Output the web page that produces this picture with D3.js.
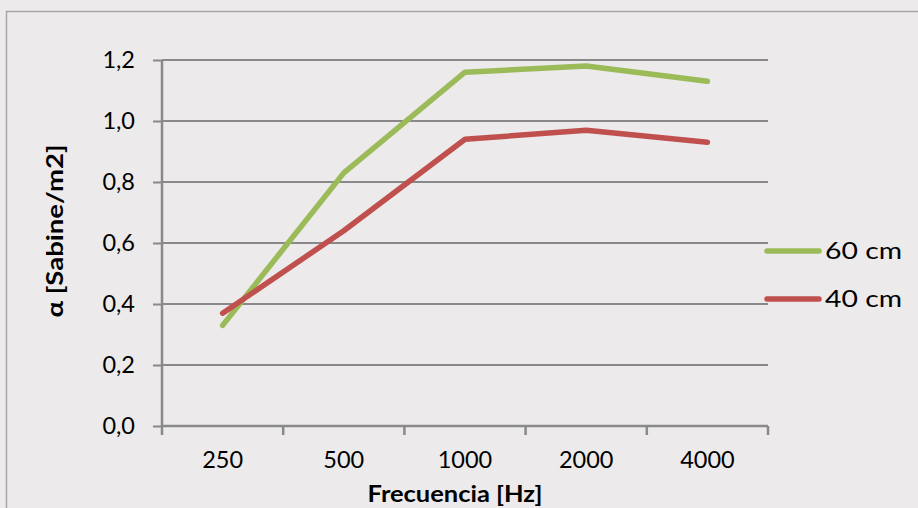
<!DOCTYPE html>
<html>
<head>
<meta charset="utf-8">
<script src="https://cdn.jsdelivr.net/npm/d3@7"></script>
<style>
html,body{margin:0;padding:0;background:#ECEAEB;}
svg{display:block;}
text{font-family:"Lato","Open Sans",sans-serif;fill:#000;}
</style>
</head>
<body>
<svg id="chart" width="918" height="508"></svg>
<script>
const categories = ["250", "500", "1000", "2000", "4000"];
const series60 = [0.33, 0.83, 1.16, 1.18, 1.13];
const series40 = [0.37, 0.64, 0.94, 0.97, 0.93];
const seriesNames = ["60 cm", "40 cm"];
const seriesColors = ["#9BBB59", "#C0504D"];
const yTicks = [0, 0.2, 0.4, 0.6, 0.8, 1.0, 1.2];

(function(){
const svg = d3.select("#chart");
svg.append("rect").attr("x",6.5).attr("y",11.5).attr("width",1000).attr("height",1000)
  .attr("fill","#ECEAEB").attr("stroke","#A6A6A6").attr("stroke-width",1.5);

const pL = 162, pR = 768, pT = 60, pB = 426;
const x = d3.scaleBand().domain(categories).range([pL, pR]);
const y = d3.scaleLinear().domain([0, 1.2]).range([pB, pT]);
const fmt = d => d3.format(".1f")(d).replace(".", ",");

// gridlines
svg.append("g").selectAll("line").data(yTicks.filter(d=>d>0)).join("line")
  .attr("x1", pL).attr("x2", pR)
  .attr("y1", d=>y(d)).attr("y2", d=>y(d))
  .attr("stroke","#898989").attr("stroke-width",2);

// y axis
const yAxis = svg.append("g").attr("transform",`translate(${pL},0)`)
  .call(d3.axisLeft(y).tickValues(yTicks).tickFormat(fmt).tickSize(9).tickPadding(18));
yAxis.select(".domain").attr("stroke","#898989").attr("stroke-width",2.5).attr("d",`M0,${pT}V${pB}`);
yAxis.selectAll(".tick line").attr("stroke","#898989").attr("stroke-width",2);
yAxis.selectAll(".tick text").attr("font-size",23.5).style("font-family","Lato, sans-serif");

// x axis
const xAxis = svg.append("g").attr("transform",`translate(0,${pB})`)
  .call(d3.axisBottom(x).tickSize(0).tickPadding(25));
xAxis.select(".domain").attr("stroke","#898989").attr("stroke-width",2.5).attr("d",`M${pL},0H${pR}`);
xAxis.selectAll(".tick text").attr("font-size",23.5).style("font-family","Lato, sans-serif");
const bounds = categories.map(c=>x(c)).concat([pR]);
xAxis.append("g").selectAll("line").data(bounds).join("line")
  .attr("x1",d=>d).attr("x2",d=>d).attr("y1",0).attr("y2",9)
  .attr("stroke","#898989").attr("stroke-width",2.5);

// lines
const line = d3.line().x((d,i)=>x(categories[i]) + x.bandwidth()/2).y(d=>y(d));
[series60, series40].forEach((s,i)=>{
  svg.append("path").datum(s).attr("d", line).attr("fill","none")
    .attr("stroke", seriesColors[i]).attr("stroke-width",5.5)
    .attr("stroke-linecap","round").attr("stroke-linejoin","round");
});

// axis titles
svg.append("text").attr("x",455).attr("y",502).attr("text-anchor","middle")
  .attr("font-size",23).attr("font-weight","bold")
  .attr("textLength",175).attr("lengthAdjust","spacingAndGlyphs").text("Frecuencia [Hz]");
svg.append("text").attr("transform","translate(63,231) rotate(-90)").attr("text-anchor","middle")
  .attr("font-size",23).attr("font-weight","bold")
  .attr("textLength",173).attr("lengthAdjust","spacingAndGlyphs").text("α [Sabine/m2]");

// legend
const legY = [251, 299];
seriesNames.forEach((n,i)=>{
  svg.append("line").attr("x1",767).attr("x2",819).attr("y1",legY[i]).attr("y2",legY[i])
    .attr("stroke",seriesColors[i]).attr("stroke-width",5.5).attr("stroke-linecap","round");
  svg.append("text").attr("x",825).attr("y",legY[i]).attr("dy","0.36em")
    .attr("font-size",23.5).attr("textLength",77).attr("lengthAdjust","spacingAndGlyphs").text(n);
});
})();
</script>
</body>
</html>
